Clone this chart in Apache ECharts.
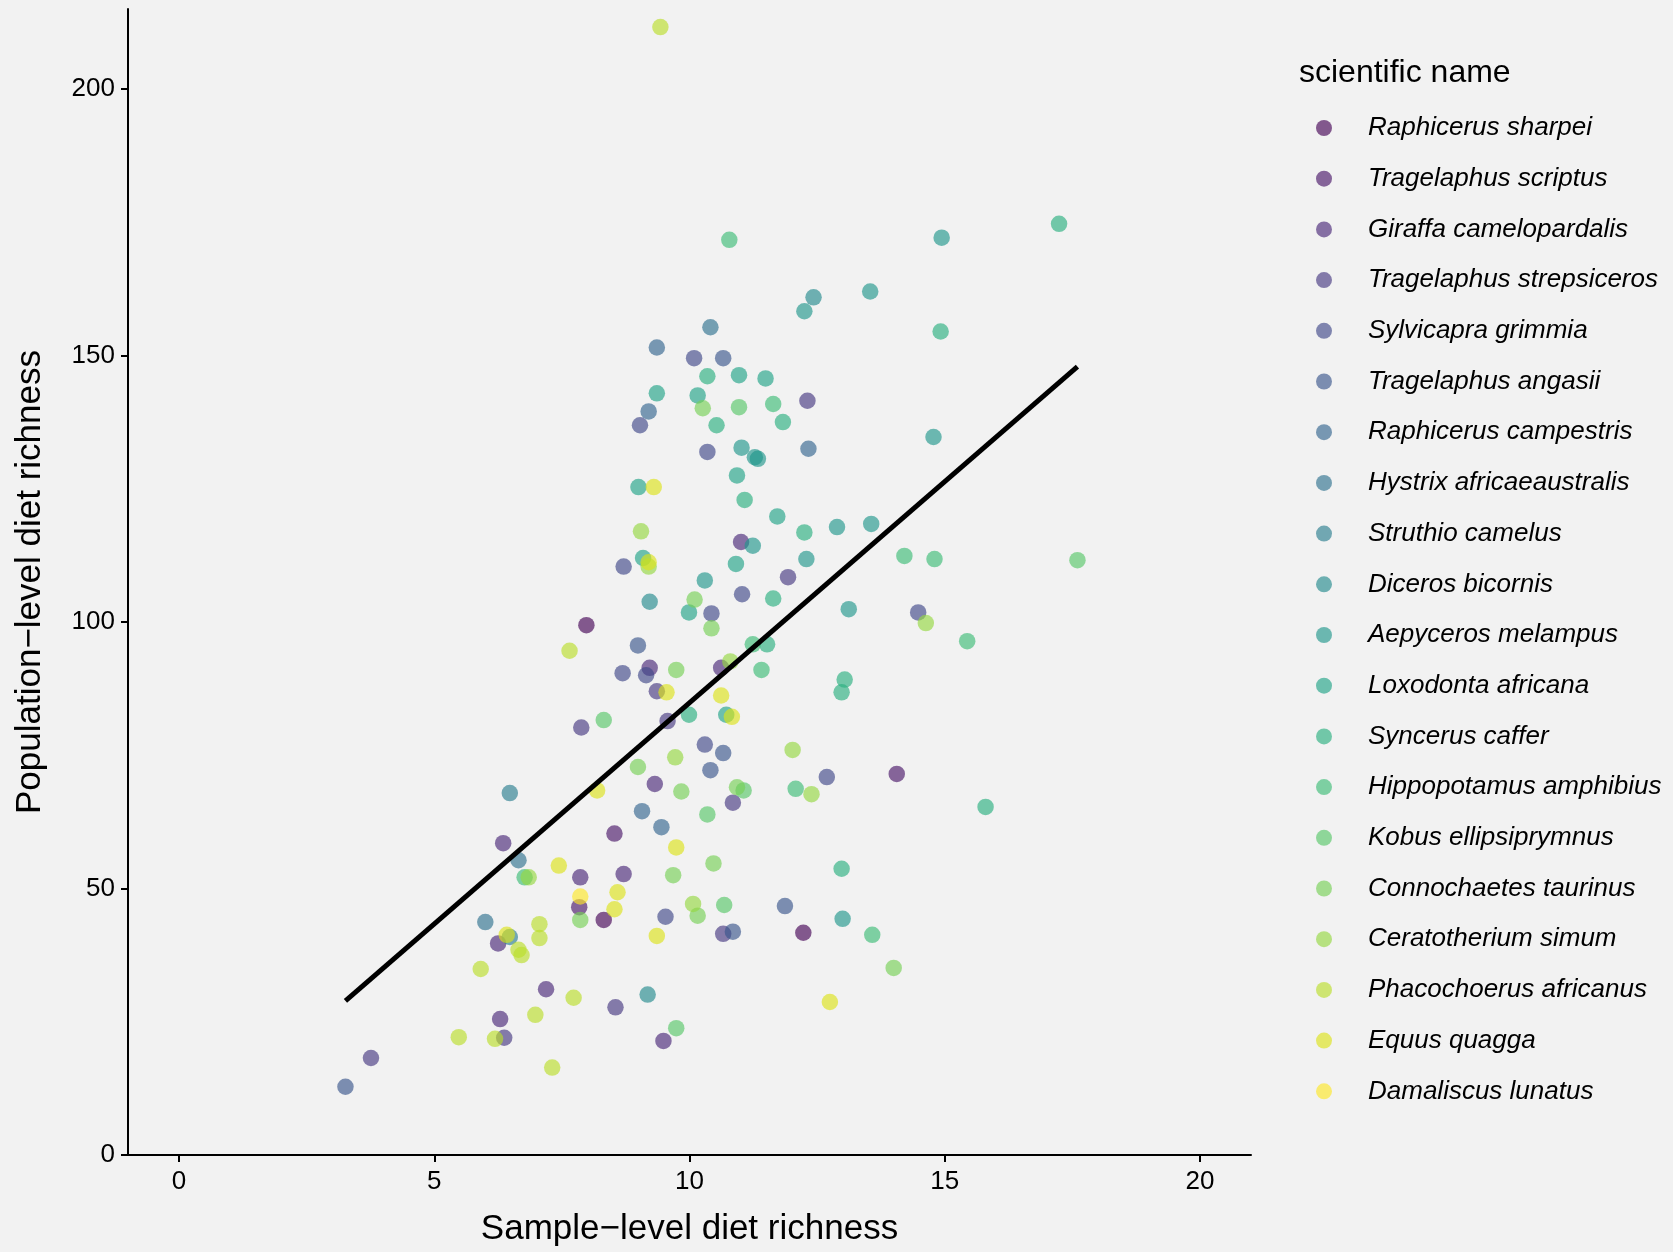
<!DOCTYPE html>
<html>
<head>
<meta charset="utf-8">
<script src="https://cdn.jsdelivr.net/npm/echarts@6/dist/echarts.min.js"></script>
<style>
  html, body { margin: 0; padding: 0; background: #f2f2f2; }
  #chart { width: 1673px; height: 1252px; }
</style>
</head>
<body>
<div id="chart"></div>
<script>
// Species, in legend order
const speciesNames = [
  'Raphicerus sharpei', 'Tragelaphus scriptus', 'Giraffa camelopardalis',
  'Tragelaphus strepsiceros', 'Sylvicapra grimmia', 'Tragelaphus angasii',
  'Raphicerus campestris', 'Hystrix africaeaustralis', 'Struthio camelus',
  'Diceros bicornis', 'Aepyceros melampus', 'Loxodonta africana',
  'Syncerus caffer', 'Hippopotamus amphibius', 'Kobus ellipsiprymnus',
  'Connochaetes taurinus', 'Ceratotherium simum', 'Phacochoerus africanus',
  'Equus quagga', 'Damaliscus lunatus'
];

// viridis, 20 steps
const speciesColors = [
  '#440154', '#481568', '#482677', '#453781', '#3F4788', '#39558C', '#32648E',
  '#2D718E', '#287D8E', '#238A8D', '#1F968B', '#20A386', '#29AF7F', '#3CBC75',
  '#56C667', '#75D054', '#95D840', '#BADE28', '#DDE318', '#FDE725'
];

// Sample-level diet richness
const sampleRichness = [
  9.43, 10.78, 14.94, 17.24, 13.54, 12.43, 12.25, 10.41, 9.36, 10.09,
  10.66, 14.92, 9.36, 10.16, 10.35, 10.97, 11.49, 12.31, 10.26, 10.97,
  11.64, 9.2, 9.03, 10.53, 11.83, 10.35, 11.02, 11.28, 11.34, 12.33,
  14.78, 10.93, 9.0, 9.3, 11.08, 11.72, 9.05, 12.25, 12.89, 13.56,
  14.21, 14.8, 17.6, 9.09, 9.2, 9.2, 8.71, 11.01, 11.24, 10.91,
  12.29, 11.93, 10.3, 11.64, 11.03, 9.22, 10.1, 9.99, 10.43, 10.43,
  7.98, 8.99, 11.24, 11.52, 8.69, 9.22, 9.15, 9.74, 9.36, 9.55,
  10.62, 10.8, 11.41, 8.32, 7.88, 9.57, 9.99, 10.62, 10.72, 10.83,
  10.3, 10.66, 10.41, 9.72, 8.99, 9.32, 9.84, 8.19, 10.93, 11.06,
  10.85, 9.07, 9.45, 10.35, 8.53, 9.74, 10.47, 8.71, 9.68, 7.86,
  8.59, 12.02, 12.08, 7.86, 7.84, 7.86, 8.53, 8.32, 9.53, 9.36,
  10.07, 10.16, 10.68, 10.66, 10.85, 11.87, 12.23, 7.73, 9.18, 8.55,
  9.74, 9.49, 13.12, 14.48, 14.63, 15.44, 13.04, 12.98, 12.69, 14.06,
  12.39, 15.8, 12.98, 13.0, 13.58, 14.0, 12.75, 6.65, 6.77, 6.85,
  7.44, 6.0, 6.48, 6.42, 6.25, 7.06, 7.06, 6.65, 6.71, 5.91,
  7.19, 6.98, 6.29, 5.48, 6.19, 6.37, 7.31, 3.76, 3.26, 7.65,
  6.48, 6.35
];

// Population-level diet richness
const populationRichness = [
  211.6, 171.7, 172.1, 174.7, 162.0, 160.9, 158.3, 155.3, 151.5, 149.5,
  149.5, 154.5, 142.9, 142.5, 146.1, 146.3, 145.7, 141.5, 140.1, 140.3,
  140.9, 139.5, 136.9, 136.9, 137.5, 131.9, 132.7, 130.9, 130.6, 132.5,
  134.7, 127.5, 125.3, 125.3, 122.9, 119.8, 117.0, 116.8, 117.8, 118.4,
  112.4, 111.8, 111.6, 112.0, 111.2, 110.4, 110.4, 115.0, 114.3, 110.9,
  111.8, 108.4, 107.8, 104.4, 105.2, 103.8, 104.2, 101.8, 101.6, 98.8,
  99.4, 95.6, 95.8, 95.8, 90.4, 91.4, 90.0, 91.0, 87.0, 86.8,
  91.4, 92.6, 91.0, 81.6, 80.2, 81.4, 82.6, 86.2, 82.6, 82.2,
  77.0, 75.4, 72.2, 74.6, 72.8, 69.6, 68.2, 68.4, 69.0, 68.4,
  66.1, 64.5, 61.5, 63.9, 60.3, 57.7, 54.7, 52.7, 52.5, 52.1,
  49.3, 76.0, 68.7, 48.5, 46.5, 44.1, 46.1, 44.1, 44.7, 41.1,
  47.1, 44.9, 46.9, 41.5, 41.9, 46.7, 41.7, 29.5, 30.1, 27.7,
  23.8, 21.4, 102.4, 101.8, 99.8, 96.4, 89.2, 86.8, 70.9, 71.5,
  67.7, 65.3, 53.7, 44.3, 41.3, 35.1, 28.7, 55.3, 52.1, 52.1,
  54.3, 43.7, 40.9, 41.3, 39.7, 43.3, 40.7, 38.5, 37.5, 34.9,
  31.1, 26.3, 25.5, 22.1, 21.8, 22.0, 16.4, 18.2, 12.8, 94.6,
  67.9, 58.5
];

// Species index (into speciesNames) of each point
const pointSpecies = [
  17, 13, 10, 12, 10, 9, 10, 7, 6, 4,
  5, 12, 11, 11, 12, 11, 11, 3, 15, 14,
  13, 6, 4, 12, 12, 4, 10, 10, 10, 6,
  10, 11, 11, 18, 12, 11, 16, 12, 10, 10,
  13, 13, 14, 11, 18, 16, 4, 2, 10, 11,
  10, 3, 10, 12, 4, 9, 15, 11, 4, 15,
  0, 5, 13, 12, 4, 2, 4, 15, 3, 18,
  2, 16, 13, 14, 3, 3, 12, 18, 11, 18,
  4, 5, 5, 16, 15, 2, 15, 18, 15, 14,
  3, 6, 6, 14, 1, 18, 15, 2, 15, 2,
  18, 16, 13, 19, 1, 15, 18, 0, 4, 18,
  16, 15, 14, 3, 5, 5, 0, 17, 9, 3,
  14, 2, 10, 4, 16, 13, 12, 12, 4, 1,
  16, 12, 12, 10, 13, 15, 18, 7, 13, 16,
  18, 7, 8, 18, 2, 17, 17, 17, 17, 17,
  2, 17, 2, 17, 17, 3, 17, 3, 5, 17,
  8, 2
];

// Linear fit across the observed range of sample-level richness
const fitX = [3.26, 17.6];
const fitY = [28.9, 147.9];

const xTicks = [0, 5, 10, 15, 20];
const yTicks = [0, 50, 100, 150, 200];

function withAlpha(hex, a) {
  const r = parseInt(hex.slice(1, 3), 16);
  const g = parseInt(hex.slice(3, 5), 16);
  const b = parseInt(hex.slice(5, 7), 16);
  return 'rgba(' + r + ',' + g + ',' + b + ',' + a + ')';
}

const pointSeries = speciesNames.map(function (name, s) {
  const data = [];
  for (let i = 0; i < sampleRichness.length; i++) {
    if (pointSpecies[i] === s) data.push([sampleRichness[i], populationRichness[i]]);
  }
  return {
    name: name,
    type: 'scatter',
    data: data,
    symbol: 'circle',
    symbolSize: 16.5,
    itemStyle: { color: withAlpha(speciesColors[s], 0.8) },
    emphasis: { disabled: true },
    z: 2
  };
});

const fitSeries = {
  name: 'fit',
  type: 'line',
  data: fitX.map(function (x, i) { return [x, fitY[i]]; }),
  symbol: 'none',
  lineStyle: { color: '#000000', width: 5 },
  emphasis: { disabled: true },
  z: 3
};

const FONT = 'Liberation Sans, Arial, Helvetica, sans-serif';

const chart = echarts.init(document.getElementById('chart'), null, { renderer: 'canvas' });
chart.setOption({
  backgroundColor: '#f2f2f2',
  animation: false,
  textStyle: { fontFamily: FONT },
  title: {
    text: 'scientific name',
    left: 1299,
    top: 57,
    padding: 0,
    textStyle: { fontFamily: FONT, fontSize: 32, fontWeight: 'normal', color: '#000000' }
  },
  legend: {
    data: speciesNames,
    orient: 'vertical',
    left: 1316,
    top: 115,
    padding: 0,
    itemWidth: 78,
    itemHeight: 16,
    itemGap: 24.7,
    icon: 'circle',
    selectedMode: false,
    textStyle: {
      fontFamily: FONT, fontSize: 26, fontStyle: 'italic', color: '#000000'
    }
  },
  grid: { left: 128, right: 422, top: 9, bottom: 91, containLabel: false },
  xAxis: {
    type: 'value',
    min: -1,
    max: 21,
    splitLine: { show: false },
    axisLine: { onZero: false, lineStyle: { color: '#000000', width: 2 } },
    axisTick: { customValues: xTicks, length: 7, lineStyle: { color: '#000000', width: 2 } },
    axisLabel: { customValues: xTicks, fontSize: 26, color: '#000000', margin: 14, fontFamily: FONT },
    name: 'Sample\u2212level diet richness',
    nameLocation: 'middle',
    nameGap: 57,
    nameTextStyle: { fontSize: 35, color: '#000000', fontFamily: FONT }
  },
  yAxis: {
    type: 'value',
    min: 0,
    max: 215,
    splitLine: { show: false },
    axisLine: { onZero: false, lineStyle: { color: '#000000', width: 2 } },
    axisTick: { customValues: yTicks, length: 7, lineStyle: { color: '#000000', width: 2 } },
    axisLabel: { customValues: yTicks, fontSize: 26, color: '#000000', margin: 13, fontFamily: FONT },
    name: 'Population\u2212level diet richness',
    nameLocation: 'middle',
    nameGap: 80,
    nameRotate: 90,
    nameTextStyle: { fontSize: 35, color: '#000000', fontFamily: FONT }
  },
  series: pointSeries.concat([fitSeries])
});
</script>
</body>
</html>
